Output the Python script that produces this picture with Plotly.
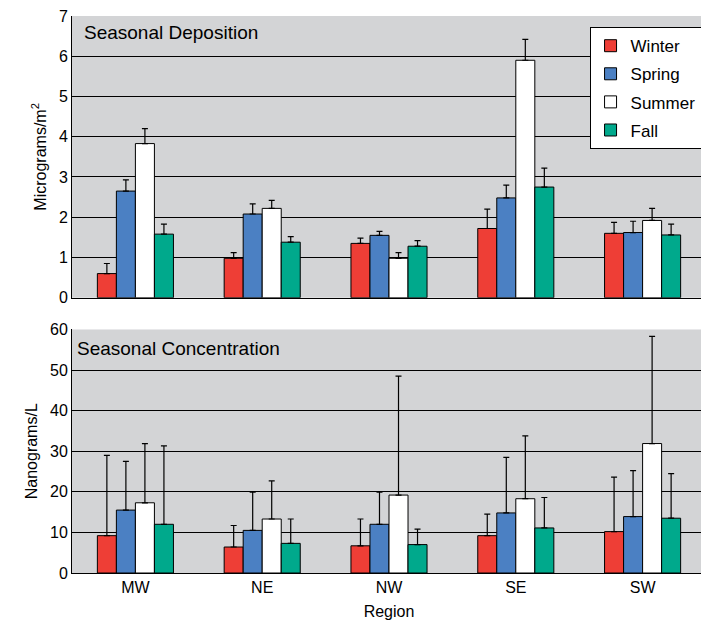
import plotly.graph_objects as go
from plotly.subplots import make_subplots

regions = ["MW", "NE", "NW", "SE", "SW"]
seasons = ["Winter", "Spring", "Summer", "Fall"]
colors = ["#ee3e36", "#4b80c3", "#ffffff", "#00a98c"]

dep = {
    "Winter": [0.60, 0.98, 1.35, 1.72, 1.60],
    "Spring": [2.65, 2.08, 1.55, 2.48, 1.62],
    "Summer": [3.83, 2.22, 0.98, 5.90, 1.92],
    "Fall": [1.58, 1.38, 1.28, 2.75, 1.56],
}
dep_top = {
    "Winter": [0.85, 1.12, 1.48, 2.20, 1.87],
    "Spring": [2.93, 2.33, 1.65, 2.80, 1.90],
    "Summer": [4.20, 2.42, 1.12, 6.42, 2.22],
    "Fall": [1.83, 1.52, 1.42, 3.22, 1.83],
}
conc = {
    "Winter": [9.2, 6.4, 6.7, 9.2, 10.2],
    "Spring": [15.5, 10.5, 12.0, 14.8, 13.9],
    "Summer": [17.3, 13.3, 19.2, 18.3, 31.9],
    "Fall": [12.0, 7.3, 7.0, 11.1, 13.5],
}
conc_top = {
    "Winter": [29.0, 11.7, 13.3, 14.5, 23.6],
    "Spring": [27.5, 19.9, 19.9, 28.5, 25.2],
    "Summer": [31.9, 22.7, 48.5, 33.8, 58.3],
    "Fall": [31.3, 13.3, 10.8, 18.6, 24.5],
}

fig = make_subplots(rows=2, cols=1, shared_xaxes=False, vertical_spacing=0.057,
                    row_heights=[0.505, 0.4365])

def add(vals, tops, row, show):
    for s, c in zip(seasons, colors):
        plus = [t - v for v, t in zip(vals[s], tops[s])]
        fig.add_trace(go.Bar(
            x=regions, y=vals[s], name=s, marker_color=c, legendgroup=s,
            marker_line=dict(color="black", width=1), showlegend=show,
            error_y=dict(type="data", array=plus, arrayminus=[0] * 5, symmetric=False,
                         color="black", thickness=1.2, width=3),
        ), row=row, col=1)

add(dep, dep_top, 1, True)
add(conc, conc_top, 2, False)

axis_common = dict(showline=True, linecolor="black", linewidth=1, mirror=False,
                   automargin=False, ticklabeloverflow="allow",
                   tickfont=dict(size=16, color="black"))
fig.update_xaxes(**axis_common, ticks="", showgrid=False)
fig.update_xaxes(showticklabels=False, row=1, col=1)
fig.update_xaxes(title_text="Region", title_standoff=10, title_font=dict(size=16, color="black"), row=2, col=1)
fig.update_yaxes(**axis_common, showgrid=True, gridcolor="black", gridwidth=1, zeroline=False,
                 ticks="", title_standoff=8, title_font=dict(size=16, color="black"))
fig.update_yaxes(range=[0, 7], tickvals=[0, 1, 2, 3, 4, 5, 6, 7],
                 title_text="Micrograms/m<sup>2</sup>", row=1, col=1)
fig.update_yaxes(range=[0, 60], tickvals=[0, 10, 20, 30, 40, 50, 60],
                 title_text="Nanograms/L", row=2, col=1)

fig.add_annotation(text="Seasonal Deposition", xref="x domain", yref="y domain", x=0.015, y=0.985,
                   xanchor="left", yanchor="top", showarrow=False, font=dict(size=19, color="black"))
fig.add_annotation(text="Seasonal Concentration", xref="x2 domain", yref="y2 domain", x=0.005, y=0.975,
                   xanchor="left", yanchor="top", showarrow=False, font=dict(size=19, color="black"))

fig.update_layout(
    width=701, height=618, margin=dict(l=64, r=3, t=8, b=53),
    barmode="group", bargap=0.4, bargroupgap=0,
    plot_bgcolor="#d3d4d6", paper_bgcolor="white",
    font=dict(family="Liberation Sans, Arial, sans-serif", color="black"),
    legend=dict(x=0.993, y=0.98, xanchor="right", yanchor="top", bgcolor="white",
                bordercolor="black", borderwidth=1, font=dict(size=17),
                itemwidth=30, tracegroupgap=3, traceorder="grouped"),
)

fig.write_html("out.html")
